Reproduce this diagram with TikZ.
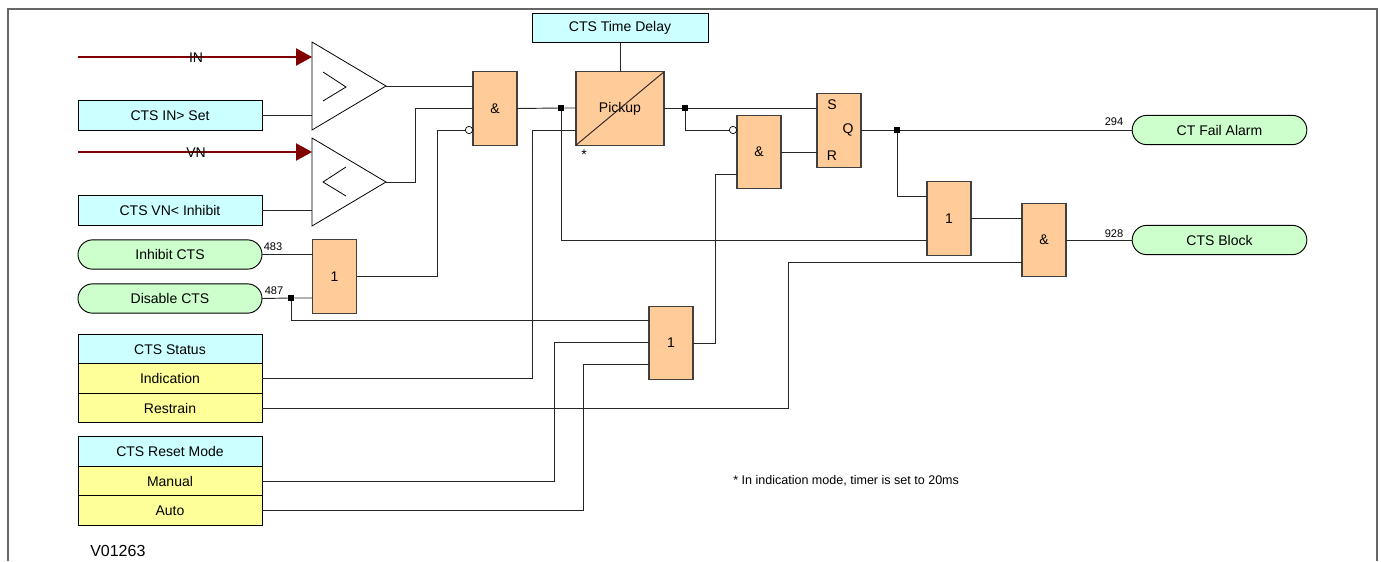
\documentclass[tikz,border=0pt]{standalone}
\usepackage{fontspec}
\setmainfont{Liberation Sans}
\definecolor{ctscyan}{HTML}{CCFFFF}
\definecolor{ctsgreen}{HTML}{CCFFCC}
\definecolor{ctsyellow}{HTML}{FFFF99}
\definecolor{ctsorange}{HTML}{FFCC99}
\definecolor{ctsred}{HTML}{800000}
\usetikzlibrary{arrows.meta,shapes.geometric,shapes.misc}

\begin{document}
\begin{tikzpicture}[x=0.75pt,y=-0.75pt,
  setting/.style={draw=black,fill=ctscyan,line width=0.7pt,outer sep=0pt,inner sep=0pt,
    minimum width=138pt,minimum height=22pt,font=\fontsize{10.5}{12}\selectfont},
  option/.style={setting,fill=ctsyellow},
  signal/.style={setting,rounded rectangle,fill=ctsgreen},
  gate/.style={draw=black!75,fill=ctsorange,line width=0.8pt,outer sep=0pt,inner sep=0pt,
    minimum width=33pt,minimum height=55pt,font=\fontsize{10.5}{12}\selectfont},
  comparator/.style={draw=black,isosceles triangle,isosceles triangle stretches,line width=0.6pt,
    minimum width=66pt,minimum height=55.5pt,inner sep=0pt,outer sep=0pt,anchor=apex},
  wire/.style={draw=black!85,line width=0.7pt},
  analog/.style={ctsred,line width=0.8pt,-{Triangle[length=12pt,width=13pt]}},
  dot/.style={fill=black,inner sep=0pt,outer sep=0pt,minimum size=5pt},
  notdot/.style={circle,draw=black,fill=white,line width=0.5pt,inner sep=0pt,outer sep=0pt,minimum size=5.5pt},
  plain/.style={inner sep=0pt,font=\fontsize{10.5}{12}\selectfont},
  ddb/.style={inner sep=0pt,font=\fontsize{8.3}{10}\selectfont}]
  \useasboundingbox (0,0) rectangle (1381,561);
  \draw[black!60,line width=1.5pt] (8,561) -- (8,9) -- (1377,9) -- (1377,561);

  % inputs and settings
  \coordinate (instart) at (78,57);
  \coordinate (vnstart) at (78,152);
  \node[setting] (inset) at (170,115.5) {CTS IN> Set};
  \node[setting] (vninh) at (170,210.5) {CTS VN< Inhibit};
  \node[signal] (inhibit) at (170,254.5) {Inhibit CTS};
  \node[signal] (disable) at (170,298.5) {Disable CTS};
  \node[setting] (status) at (170,349.5) {CTS Status};
  \node[option] (indication) at (170,378.5) {Indication};
  \node[option] (restrain) at (170,408) {Restrain};
  \node[setting] (reset) at (170,451.5) {CTS Reset Mode};
  \node[option] (manual) at (170,481) {Manual};
  \node[option] (auto) at (170,510.5) {Auto};
  \node[setting,minimum width=132pt] (delay) at (620,28) {CTS Time Delay};

  % comparators
  \node[comparator] (cmpin) at (386,86) {};
  \node[comparator] (cmpvn) at (386,182) {};
  \draw[line width=0.6pt] (323,72) -- (346,87) -- (323,101);
  \draw[line width=0.6pt] (346,167) -- (323,182) -- (346,196);

  % logic
  \node[gate] (andin) at (495,108.5) {\&};
  \node[gate] (orin) at (334.5,276.5) {1};
  \node[gate,minimum width=66pt] (pickup) at (620,108.5) {Pickup};
  \node[gate] (andr) at (759,152) {\&};
  \node[gate] (latch) at (839,130.5) {};
  \node[gate] (orrst) at (671,343) {1};
  \node[gate] (orblk) at (949,218.5) {1};
  \node[gate] (andblk) at (1044,240) {\&};
  \node[plain] (lats) at (832,105) {S};
  \node[plain] (latq) at (848,130) {Q};
  \node[plain] (latr) at (832,156) {R};

  % outputs
  \node[signal,minimum width=131pt] (alarm) at (1219.5,130) {CT Fail Alarm};
  \node[signal,minimum width=131pt] (block) at (1219.5,240) {CTS Block};

  % branch points
  \node[dot] (dotpick) at (561,108) {};
  \node[dot] (dotout) at (685,108) {};
  \node[dot] (dotq) at (897,130) {};
  \node[dot] (dotdis) at (291,298) {};
  \node[notdot] (notin) at (469,130) {};
  \node[notdot] (notr) at (733,130) {};

  \draw[analog] (instart) -- (instart -| cmpin.lower side);
  \draw[analog] (vnstart) -- (vnstart -| cmpvn.lower side);
  \node[plain] (inlabel) at (196,58) {IN};
  \node[plain] (vnlabel) at (196,153) {VN};

  \draw[wire] (inset.east) -- (inset.east -| cmpin.lower side);
  \draw[wire] (vninh.east) -- (vninh.east -| cmpvn.lower side);
  \draw[wire] (inhibit.east) -- (inhibit.east -| orin.west);
  \draw[wire] (disable.east) -- (dotdis) -- (dotdis -| orin.west);
  \draw[wire] (cmpin.apex) -- (cmpin.apex -| andin.west);
  \draw[wire] (cmpvn.apex) -| (415,108.5) -- (andin.west);
  \draw[wire] (orin.east) -| (437,130) -- (notin);
  \draw[wire] (andin.east) -- (dotpick) -- (dotpick -| pickup.west);
  \draw[wire] (delay.south) -- (pickup.north);
  \draw[wire] (pickup.south west) -- (pickup.north east);
  \draw[wire] (pickup.east |- dotout) -- (dotout) -- (dotout -| latch.west);
  \draw[wire] (dotout) |- (notr);
  \draw[wire] (andr.east) -- (andr.east -| latch.west);
  \draw[wire] (latch.east |- dotq) -- (dotq) -- (dotq -| alarm.west);
  \draw[wire] (dotq) |- (orblk.west |- 0,196);
  \draw[wire] (dotpick) |- (orblk.west |- 0,240);
  \draw[wire] (orblk.east) -- (orblk.east -| andblk.west);
  \draw[wire] (andblk.east) -- (block.west);
  \draw[wire] (indication.east) -| (532,130) -- (pickup.west |- 0,130);
  \draw[wire] (restrain.east) -| (788,262) -- (andblk.west |- 0,262);
  \draw[wire] (dotdis) |- (orrst.west |- 0,320);
  \draw[wire] (manual.east) -| (554,342) -- (orrst.west |- 0,342);
  \draw[wire] (auto.east) -| (583,364) -- (orrst.west |- 0,364);
  \draw[wire] (orrst.east) -| (715,174) -- (andr.west |- 0,174);

  % small labels
  \node[ddb] (n483) at (273,247) {483};
  \node[ddb] (n487) at (274,291) {487};
  \node[ddb] (n294) at (1114,122) {294};
  \node[ddb] (n928) at (1114,234) {928};
  \node[plain] (star) at (584,155) {*};
  \node[ddb,anchor=west,font=\fontsize{9.4}{11}\selectfont] (note) at (733,481) {* In indication mode, timer is set to 20ms};
  \node[plain,anchor=west,font=\fontsize{12}{14}\selectfont] (version) at (90,551) {V01263};
\end{tikzpicture}
\end{document}
